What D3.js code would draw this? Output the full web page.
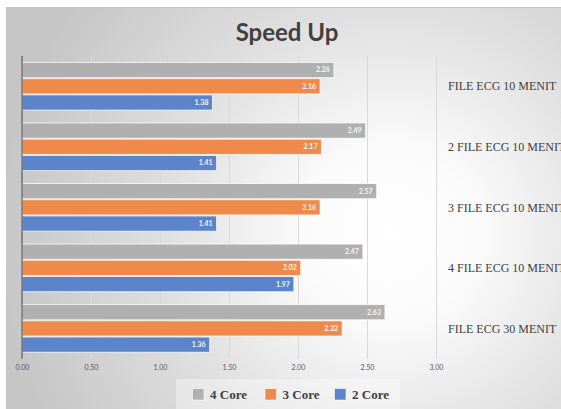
<!DOCTYPE html>
<html>
<head>
<meta charset="utf-8">
<script src="https://cdn.jsdelivr.net/npm/d3@7/dist/d3.min.js"></script>
<style>
  html, body { margin: 0; padding: 0; background: #ffffff; }
  svg { display: block; }
</style>
</head>
<body>
<svg id="chart" width="561" height="409"></svg>
<script>
// Speed-up per workload, grouped by core count
const categories = [
  "FILE ECG 10 MENIT",
  "2 FILE ECG 10 MENIT",
  "3 FILE ECG 10 MENIT",
  "4 FILE ECG 10 MENIT",
  "FILE ECG 30 MENIT"
];
const seriesNames = ["4 Core", "3 Core", "2 Core"];
const core4 = [2.26, 2.49, 2.57, 2.47, 2.63];
const core3 = [2.16, 2.17, 2.16, 2.02, 2.32];
const core2 = [1.38, 1.41, 1.41, 1.97, 1.36];
const xTickValues = [0, 0.5, 1, 1.5, 2, 2.5, 3];
const seriesColors = ["#b0b0b0", "#ee8b4b", "#5b84cb"];

const seriesValues = [core4, core3, core2];
const rows = categories.map((c, i) => ({
  category: c,
  values: seriesNames.map((s, j) => ({ series: s, value: seriesValues[j][i], color: seriesColors[j] }))
}));

const svg = d3.select("#chart");
const W = 561, H = 409;

// background panel with soft radial shading
const defs = svg.append("defs");
const grad = defs.append("radialGradient")
  .attr("id", "bgGrad")
  .attr("gradientUnits", "userSpaceOnUse")
  .attr("cx", 390).attr("cy", 235).attr("r", 390)
  .attr("fx", 390).attr("fy", 235);
grad.append("stop").attr("offset", "0%").attr("stop-color", "#ffffff");
grad.append("stop").attr("offset", "22%").attr("stop-color", "#fbfbfb");
grad.append("stop").attr("offset", "60%").attr("stop-color", "#dedede");
grad.append("stop").attr("offset", "100%").attr("stop-color", "#c6c6c6");

svg.append("rect")
  .attr("x", 6).attr("y", 7).attr("width", W - 6).attr("height", H - 7)
  .attr("fill", "url(#bgGrad)");
svg.append("line")
  .attr("x1", 6).attr("x2", W).attr("y1", 7.5).attr("y2", 7.5)
  .attr("stroke", "#c4c4c4").attr("stroke-width", 1);

// scales
const x = d3.scaleLinear().domain([0, 3]).range([22, 436]);
const y0 = d3.scaleBand().domain(categories).range([56, 358.7])
  .paddingInner(0.196).paddingOuter(0.098);
const y1 = d3.scaleBand().domain(seriesNames).range([0, y0.bandwidth()]);

// title
svg.append("text")
  .attr("x", 287).attr("y", 41)
  .attr("text-anchor", "middle")
  .attr("font-family", "Lato, 'Open Sans', sans-serif")
  .attr("font-weight", "bold")
  .attr("font-size", 24)
  .attr("fill", "#404040")
  .text("Speed Up");

// vertical gridlines
svg.append("g")
  .selectAll("line")
  .data(xTickValues.slice(1))
  .join("line")
  .attr("x1", d => Math.round(x(d)) + 0.5).attr("x2", d => Math.round(x(d)) + 0.5)
  .attr("y1", 56).attr("y2", 358.7)
  .attr("stroke", "#d9d9d9").attr("stroke-width", 1);

// bottom axis labels (no domain line or ticks)
const xAxis = d3.axisBottom(x)
  .tickValues(xTickValues)
  .tickFormat(d3.format(".2f"))
  .tickSize(0)
  .tickPadding(0);
const gx = svg.append("g").attr("transform", "translate(0,365)").call(xAxis);
gx.select(".domain").remove();
gx.selectAll("text")
  .attr("font-family", "Lato, 'Open Sans', sans-serif")
  .attr("font-size", 7)
  .attr("fill", "#595959");

// bars
const groups = svg.append("g")
  .selectAll("g")
  .data(rows)
  .join("g")
  .attr("transform", d => `translate(0,${y0(d.category)})`);

groups.selectAll("rect")
  .data(d => d.values)
  .join("rect")
  .attr("x", x(0))
  .attr("y", d => y1(d.series) + 0.5)
  .attr("width", d => x(d.value) - x(0))
  .attr("height", y1.bandwidth() - 1)
  .attr("fill", d => d.color)
  .attr("stroke", "rgba(255,255,255,0.75)")
  .attr("stroke-width", 1);

// value labels inside bar ends
groups.selectAll("text.val")
  .data(d => d.values)
  .join("text")
  .attr("class", "val")
  .attr("x", d => x(d.value) - 4)
  .attr("y", d => y1(d.series) + y1.bandwidth() / 2)
  .attr("dy", "0.35em")
  .attr("text-anchor", "end")
  .attr("font-family", "Lato, 'Open Sans', sans-serif")
  .attr("font-weight", "bold")
  .attr("font-size", 7)
  .attr("fill", "#f6f6f6")
  .text(d => d.value.toFixed(2));

// vertical axis line
svg.append("line")
  .attr("x1", x(0)).attr("x2", x(0))
  .attr("y1", 56).attr("y2", 358.7)
  .attr("stroke", "#595959").attr("stroke-width", 1.2);

// category labels on the right
svg.append("g")
  .selectAll("text")
  .data(categories)
  .join("text")
  .attr("x", 448)
  .attr("y", d => y0(d) + y0.bandwidth() / 2)
  .attr("dy", "0.35em")
  .attr("font-family", "'Liberation Serif', 'DejaVu Serif', serif")
  .attr("font-size", 12)
  .attr("fill", "#404040")
  .text(d => d);

// legend
const legend = svg.append("g");
legend.append("rect")
  .attr("x", 176).attr("y", 379).attr("width", 224).attr("height", 30)
  .attr("fill", "rgba(255,255,255,0.35)");
const legendX = [192.5, 265, 334.5];
const items = legend.selectAll("g")
  .data(seriesNames.map((s, i) => ({ name: s, color: seriesColors[i], x: legendX[i] })))
  .join("g")
  .attr("transform", d => `translate(${d.x},388.5)`);
items.append("rect")
  .attr("width", 11.5).attr("height", 11.5)
  .attr("fill", d => d.color)
  .attr("stroke", "rgba(255,255,255,0.75)").attr("stroke-width", 0.8);
items.append("text")
  .attr("x", 17.5).attr("y", 6)
  .attr("dy", "0.35em")
  .attr("font-family", "'Liberation Serif', 'DejaVu Serif', serif")
  .attr("font-weight", "bold")
  .attr("font-size", 13)
  .attr("fill", "#404040")
  .text(d => d.name);
</script>
</body>
</html>
